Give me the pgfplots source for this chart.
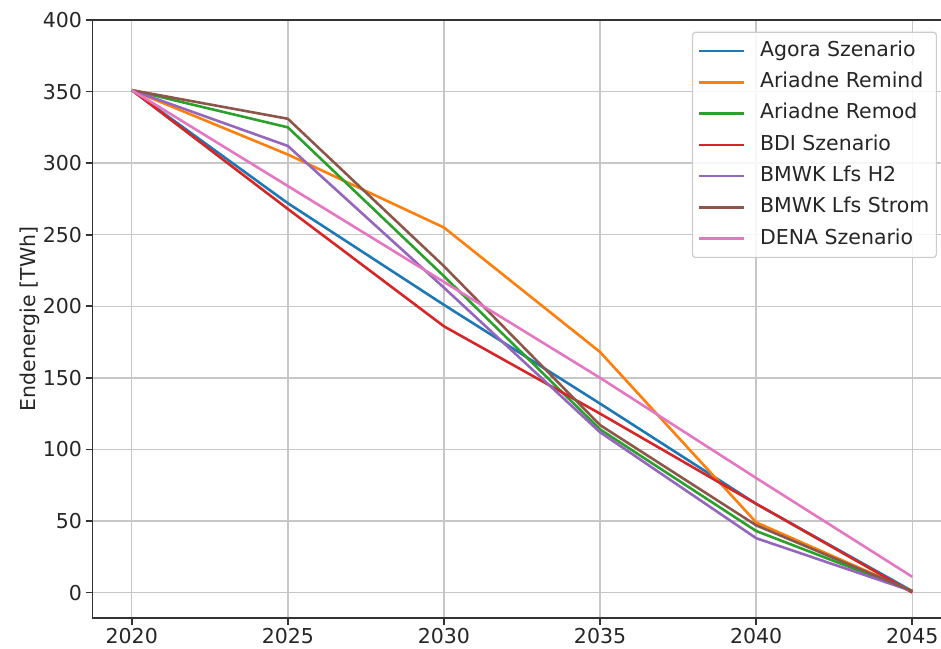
\documentclass[border=0pt]{standalone}
\usepackage{pgfplots}
\pgfplotsset{compat=1.18}
\usepackage{fontspec}
\setmainfont{DejaVu Sans}
\definecolor{tabblue}{HTML}{1F77B4}
\definecolor{taborange}{HTML}{FF7F0E}
\definecolor{tabgreen}{HTML}{2CA02C}
\definecolor{tabred}{HTML}{D62728}
\definecolor{tabpurple}{HTML}{9467BD}
\definecolor{tabbrown}{HTML}{8C564B}
\definecolor{tabpink}{HTML}{E377C2}
\begin{document}
\begin{tikzpicture}
\begin{axis}[
  scale only axis,
  width=858.6pt, height=597.7pt,
  xmin=2018.75, xmax=2046.25,
  ymin=-17.55, ymax=400,
  xtick={2020,2025,2030,2035,2040,2045},
  ytick={0,50,100,150,200,250,300,350,400},
  /pgf/number format/1000 sep={},
  /pgf/number format/assume math mode=true,
  ticklabel style={font=\fontsize{20.5}{24}\selectfont, text=black!85},
  xticklabel style={inner sep=0pt, yshift=-3.5pt},
  yticklabel style={inner sep=0pt, xshift=-3.5pt},
  tick align=outside,
  major tick length=7pt,
  tick style={line width=1.6pt, black!80},
  xtick pos=bottom, ytick pos=left,
  axis line style={line width=1.6pt, black!80},
  grid=major,
  major grid style={line width=1.5pt, color=black!22},
  ylabel={Endenergie [TWh]},
  ylabel style={font=\fontsize{20.5}{24}\selectfont, text=black!85},
  legend cell align=left,
  legend style={
    at={(rel axis cs:0.9833,0.9804)}, anchor=north east,
    font=\fontsize{20.5}{24}\selectfont,
    draw=black!20, line width=1.2pt, rounded corners=3pt,
    fill=white, fill opacity=0.85, text opacity=1,
    row sep=0pt, inner xsep=5pt, inner ysep=3pt,
    nodes={inner ysep=5.9pt, text height=15pt, text depth=4.5pt, text=black!85},
    /tikz/every odd column/.append style={column sep=13pt},
  },
  legend image code/.code={\draw[#1, line width=2.6pt] (0pt,0pt) -- (45pt,0pt);},
  every axis plot/.append style={line width=2.6pt},
]
\addplot[tabblue] coordinates {(2020,351) (2025,272) (2030,201) (2035,132) (2040,62) (2045,1)};
\addlegendentry{Agora Szenario}
\addplot[taborange] coordinates {(2020,351) (2025,306) (2030,255) (2035,168) (2040,49) (2045,1)};
\addlegendentry{Ariadne Remind}
\addplot[tabgreen] coordinates {(2020,351) (2025,325) (2030,221) (2035,114) (2040,43) (2045,1)};
\addlegendentry{Ariadne Remod}
\addplot[tabred] coordinates {(2020,351) (2025,268) (2030,186) (2035,125) (2040,62) (2045,0)};
\addlegendentry{BDI Szenario}
\addplot[tabpurple] coordinates {(2020,351) (2025,312) (2030,213) (2035,112) (2040,38) (2045,1)};
\addlegendentry{BMWK Lfs H2}
\addplot[tabbrown] coordinates {(2020,351) (2025,331) (2030,228) (2035,117) (2040,47) (2045,1)};
\addlegendentry{BMWK Lfs Strom}
\addplot[tabpink] coordinates {(2020,351) (2025,284) (2030,217) (2035,150) (2040,80) (2045,11)};
\addlegendentry{DENA Szenario}
\end{axis}
\pgfresetboundingbox
\path[use as bounding box] ([xshift=-92.7pt,yshift=-30.3pt]current axis.south west) rectangle ([xshift=848.3pt,yshift=20pt]current axis.north west);
\end{tikzpicture}
\end{document}
